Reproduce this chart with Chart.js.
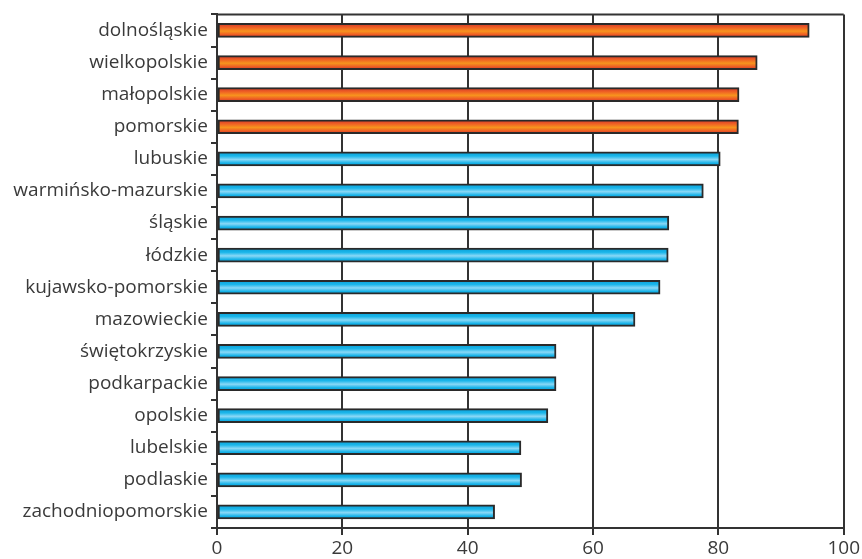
<!DOCTYPE html>
<html>
<head>
<meta charset="utf-8">
<script src="https://cdn.jsdelivr.net/npm/chart.js@4"></script>
<style>
  html, body { margin: 0; padding: 0; background: #fff; }
  #wrap { width: 862px; height: 559px; }
</style>
</head>
<body>
<div id="wrap"><canvas id="barChart"></canvas></div>
<script>
const regions = [
    "dolnośląskie", "wielkopolskie", "małopolskie", "pomorskie", "lubuskie",
    "warmińsko-mazurskie", "śląskie", "łódzkie", "kujawsko-pomorskie", "mazowieckie",
    "świętokrzyskie", "podkarpackie", "opolskie", "lubelskie", "podlaskie",
    "zachodniopomorskie"
];
const values = [94.5, 86.2, 83.3, 83.2, 80.3, 77.6, 72.1, 72.0, 70.7, 66.7, 54.1, 54.1, 52.8, 48.5, 48.6, 44.3];
const highlighted = ["dolnośląskie", "wielkopolskie", "małopolskie", "pomorskie"];
const xTicks = [0, 20, 40, 60, 80, 100];

const barSize = 14;

function barFill(context) {
    const chart = context.chart;
    const hot = highlighted.includes(regions[context.dataIndex]);
    const yScale = chart.scales.y;
    if (!chart.chartArea || !yScale) return hot ? "#f26b22" : "#1ab4e8";
    const mid = yScale.getPixelForValue(context.dataIndex);
    const g = chart.ctx.createLinearGradient(0, mid - barSize / 2, 0, mid + barSize / 2);
    if (hot) {
        g.addColorStop(0, "#d0362a");
        g.addColorStop(0.3, "#f06224");
        g.addColorStop(0.55, "#f7941e");
        g.addColorStop(0.8, "#ee5c24");
        g.addColorStop(1, "#d0362a");
    } else {
        g.addColorStop(0, "#0a9ed6");
        g.addColorStop(0.3, "#1ab6ea");
        g.addColorStop(0.55, "#8ad8f6");
        g.addColorStop(0.8, "#16b2e8");
        g.addColorStop(1, "#0a9ed6");
    }
    return g;
}

// górna krawędź obszaru wykresu
const topBorder = {
    id: "topBorder",
    afterDraw(chart) {
        const { ctx, chartArea } = chart;
        ctx.save();
        ctx.strokeStyle = "#333";
        ctx.lineWidth = 2;
        ctx.beginPath();
        ctx.moveTo(chartArea.left, chartArea.top);
        ctx.lineTo(chartArea.right, chartArea.top);
        ctx.stroke();
        ctx.restore();
    }
};

const ctx = document.getElementById("barChart").getContext("2d");
new Chart(ctx, {
    type: "bar",
    data: {
        labels: regions,
        datasets: [{
            data: values,
            backgroundColor: barFill,
            borderColor: "#2a2a2a",
            borderWidth: 2,
            borderSkipped: false,
            barThickness: barSize
        }]
    },
    options: {
        indexAxis: "y",
        responsive: true,
        maintainAspectRatio: false,
        animation: false,
        layout: { padding: { top: 14, right: 17, left: 0, bottom: 0 } },
        plugins: {
            legend: { display: false },
            tooltip: { enabled: false }
        },
        scales: {
            x: {
                min: 0,
                max: 100,
                afterBuildTicks: axis => { axis.ticks = xTicks.map(v => ({ value: v })); },
                afterFit: axis => { axis.height = 31; },
                grid: { color: "#333", lineWidth: 2, tickLength: 7 },
                border: { color: "#333", width: 2 },
                ticks: {
                    color: "#3a3a3a",
                    font: { family: "Open Sans", size: 19 },
                    padding: 2
                }
            },
            y: {
                afterFit: axis => { axis.width = 217; },
                grid: {
                    offset: true,
                    drawOnChartArea: false,
                    drawTicks: true,
                    tickLength: 6,
                    color: "#333",
                    lineWidth: 2
                },
                border: { color: "#333", width: 2 },
                ticks: {
                    color: "#3a3a3a",
                    font: { family: "Open Sans", size: 19 },
                    padding: 3,
                    autoSkip: false
                }
            }
        }
    },
    plugins: [topBorder]
});
</script>
</body>
</html>
